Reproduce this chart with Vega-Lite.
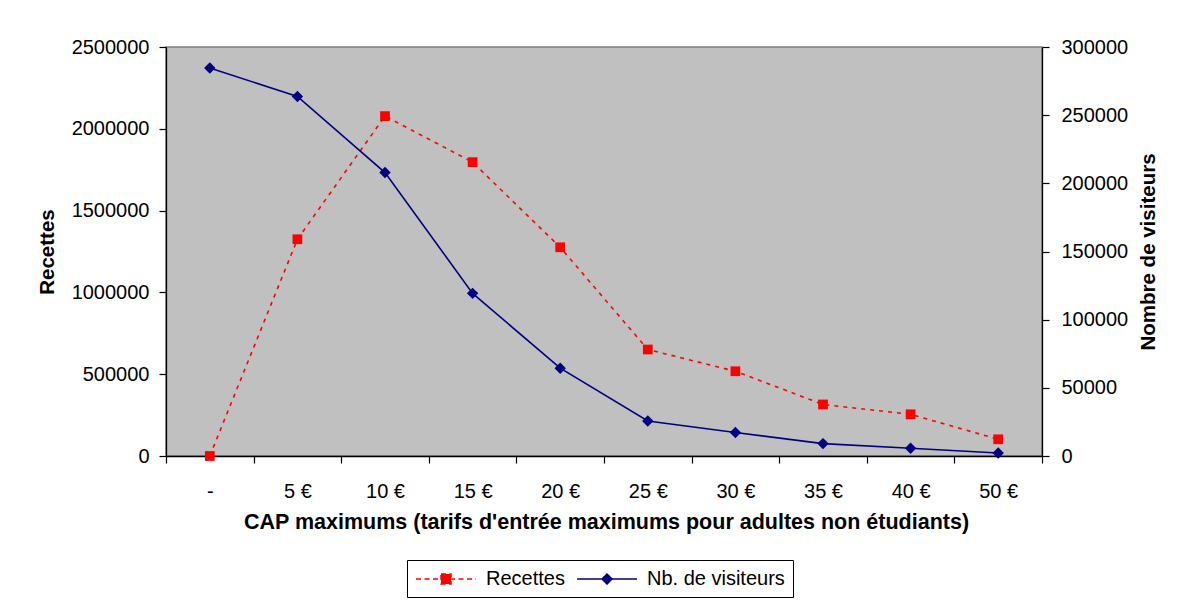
{
  "$schema": "https://vega.github.io/schema/vega-lite/v6.json",
  "autosize": "none",
  "width": 876,
  "height": 409,
  "padding": {"left": 166, "top": 47, "right": 144, "bottom": 145},
  "background": "white",
  "data": {
    "values": [
      {"cap": "-", "recettes": 0, "visiteurs": 284600},
      {"cap": "5 €", "recettes": 1324700, "visiteurs": 263700},
      {"cap": "10 €", "recettes": 2077600, "visiteurs": 207900},
      {"cap": "15 €", "recettes": 1796000, "visiteurs": 119300},
      {"cap": "20 €", "recettes": 1275700, "visiteurs": 64400},
      {"cap": "25 €", "recettes": 651000, "visiteurs": 25700},
      {"cap": "30 €", "recettes": 518000, "visiteurs": 17200},
      {"cap": "35 €", "recettes": 315000, "visiteurs": 9100},
      {"cap": "40 €", "recettes": 255000, "visiteurs": 5650},
      {"cap": "50 €", "recettes": 102000, "visiteurs": 2200}
    ]
  },
  "encoding": {
    "x": {
      "field": "cap",
      "type": "ordinal",
      "sort": null,
      "scale": {"type": "band", "paddingInner": 0, "paddingOuter": 0},
      "axis": {
        "orient": "bottom",
        "title": "CAP maximums (tarifs d'entrée maximums pour adultes non étudiants)",
        "titleFontSize": 21.5,
        "tickBand": "extent",
        "tickSize": 7,
        "labelPadding": 18,
        "labelAngle": 0,
        "titleX": 440,
        "titleY": 66,
        "titleBaseline": "middle",
        "titleAlign": "center",
        "encode": {"ticks": {"update": {"y": {"value": -7}}}}
      }
    }
  },
  "layer": [
    {
      "encoding": {
        "y": {
          "field": "recettes",
          "type": "quantitative",
          "scale": {"domain": [0, 2500000], "nice": false, "zero": true},
          "axis": {
            "orient": "left",
            "title": "Recettes",
            "titleFontSize": 20.5,
            "values": [0, 500000, 1000000, 1500000, 2000000, 2500000],
            "format": "d",
            "tickSize": 7,
            "labelPadding": 10,
            "titleAngle": 270,
            "titleX": -119,
            "titleY": 204.5,
            "titleBaseline": "middle",
            "titleAlign": "center",
            "encode": {"ticks": {"update": {"x": {"value": 7}}}}
          }
        },
        "color": {
          "datum": "Recettes",
          "legend": {
            "orient": "none",
            "legendX": 241,
            "legendY": 513,
            "direction": "horizontal",
            "title": null,
            "encode": {
              "symbols": {
                "update": {
                  "shape": {"signal": "datum.value === 'Recettes' ? 'M-1,0H5M1.5,-0.5H2.5V0.5H1.5Z' : 'M-1,0H5M1.5,0L2,-0.5L2.5,0L2,0.5Z'"},
                  "strokeDash": {"signal": "datum.value === 'Recettes' ? [5, 3.5] : [1, 0]"},
                  "fill": {"signal": "datum.value === 'Recettes' ? '#FF0000' : '#000080'"},
                  "stroke": {"signal": "datum.value === 'Recettes' ? '#FF0000' : '#000080'"},
                  "strokeWidth": {"value": 1.5},
                  "opacity": {"value": 1},
                  "fillOpacity": {"value": 1},
                  "strokeOpacity": {"value": 1}
                }
              }
            }
          }
        }
      },
      "layer": [
        {"mark": {"type": "line", "strokeDash": [4, 5], "strokeWidth": 1.6}},
        {"mark": {"type": "point", "shape": "square", "filled": true, "size": 95, "opacity": 1}}
      ]
    },
    {
      "encoding": {
        "y": {
          "field": "visiteurs",
          "type": "quantitative",
          "scale": {"domain": [0, 300000], "nice": false, "zero": true},
          "axis": {
            "orient": "right",
            "title": "Nombre de visiteurs",
            "titleFontSize": 20.5,
            "values": [0, 50000, 100000, 150000, 200000, 250000, 300000],
            "format": "d",
            "tickSize": 7,
            "labelPadding": 12,
            "titleAngle": 270,
            "titleX": 106,
            "titleY": 204.5,
            "titleBaseline": "middle",
            "titleAlign": "center",
            "encode": {"ticks": {"update": {"x": {"value": -7}}}}
          }
        },
        "color": {"datum": "Nb. de visiteurs"}
      },
      "layer": [
        {"mark": {"type": "line", "strokeWidth": 1.6}},
        {"mark": {"type": "point", "shape": "diamond", "filled": true, "size": 130, "opacity": 1}}
      ]
    }
  ],
  "resolve": {"scale": {"y": "independent"}},
  "config": {
    "font": "Liberation Sans, Arial, sans-serif",
    "view": {"fill": "#C0C0C0", "stroke": "#808080", "strokeWidth": 1.5},
    "range": {"category": ["#FF0000", "#000080"]},
    "axis": {
      "labelFont": "Liberation Sans, Arial, sans-serif",
      "titleFont": "Liberation Sans, Arial, sans-serif",
      "labelFontSize": 20,
      "labelColor": "black",
      "titleFontSize": 20,
      "titleFontWeight": "bold",
      "titleColor": "black",
      "domainColor": "black",
      "domainWidth": 1.3,
      "tickColor": "black",
      "tickWidth": 1.2,
      "grid": false
    },
    "legend": {
      "strokeColor": "black",
      "fillColor": "white",
      "padding": 8,
      "labelFont": "Liberation Sans, Arial, sans-serif",
      "labelFontSize": 20,
      "labelColor": "black",
      "symbolSize": 400,
      "symbolType": "M-1,0H5",
      "labelOffset": 49,
      "columnPadding": 9,
      "symbolStrokeWidth": 1.5
    }
  }
}
